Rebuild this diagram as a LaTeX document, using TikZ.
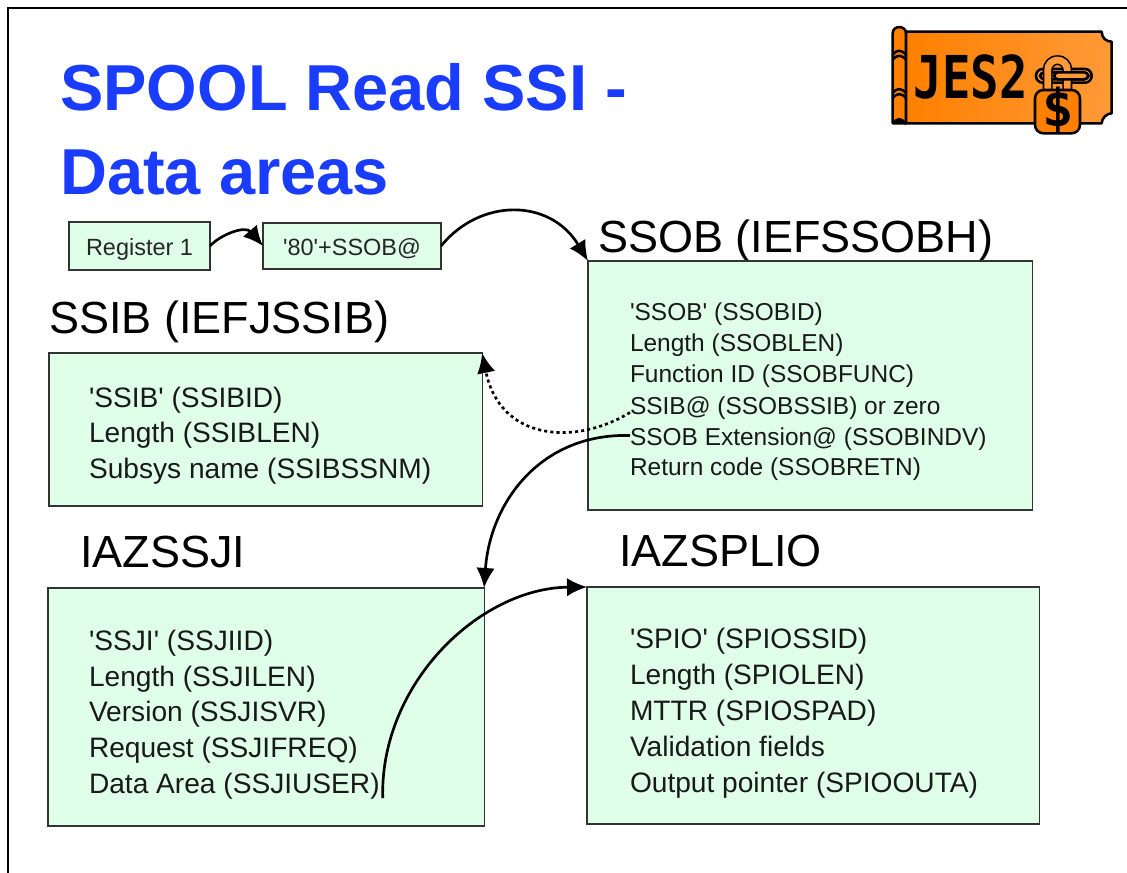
\documentclass[tikz,border=0pt]{standalone}
\usepackage{fontspec}
\setmainfont{Liberation Sans}
\newfontfamily\logofont{DejaVu Sans Mono}
\usetikzlibrary{arrows.meta,positioning,calc}
\definecolor{Title}{HTML}{1A3CFF}
\definecolor{Mint}{HTML}{E0FFE9}
\definecolor{Edge}{HTML}{333333}
\definecolor{LogoA}{HTML}{FF8000}
\definecolor{LogoB}{HTML}{FF9A38}

\begin{document}
\begin{tikzpicture}
[x=.025cm,y=.025cm,
box/.style={draw=Edge,fill=Mint,thick,inner sep=0pt,outer sep=0pt,anchor=north west},
smallbox/.style={box,font=\fontsize{16.7}{20}\selectfont,text=black!85,text height=13.5pt,text depth=0pt},
title/.style={anchor=base west,inner sep=0pt,text=Title,font=\fontsize{46.2}{50}\selectfont\bfseries},
head/.style={anchor=west,inner sep=0pt,text=black,font=\fontsize{32}{36}\selectfont,text height=28pt,text depth=5.8pt},
field/.style={anchor=west,inner sep=0pt,outer sep=0pt,text=black!90,font=\fontsize{20}{24}\selectfont,text height=18pt,text depth=3.4pt},
ssobfield/.style={field,font=\fontsize{17.4}{21}\selectfont},
link/.style={-{Latex[length=5mm,width=4.6mm]},line width=1.9pt,black},
logoline/.style={draw=black,line width=1.8pt,line join=round}
]
\useasboundingbox (0,0) rectangle (1127,873);
%% page edge
\draw[black,line width=.8pt] (8,0) -- (8,865) -- (1127,865);
%% title
\node[title] (title1) at (60,762) {SPOOL Read SSI -};
\node[title] (title2) at (60,678) {Data areas};
%% register boxes
\node[smallbox,minimum width=3.525cm,minimum height=1.2cm] (reg) at (69,651) {Register 1};
\node[smallbox,minimum width=4.45cm,minimum height=1.15cm] (ptr) at (263,650) {\textquotesingle 80\textquotesingle +SSOB@};
%% headings
\node[head] (ssobhead) at (598,636) {SSOB (IEFSSOBH)};
\node[head] (ssibhead) at (49,555) {SSIB (IEFJSSIB)};
\node[head] (ssjihead) at (80,321) {IAZSSJI};
\node[head] (spiohead) at (619,322) {IAZSPLIO};
%% data areas
\node[box,minimum width=11.1cm,minimum height=6.225cm] (ssob) at (588,612) {};
\node[box,minimum width=10.825cm,minimum height=3.825cm] (ssib) at (49,520) {};
\node[box,minimum width=10.9cm,minimum height=5.95cm] (ssji) at (48,285) {};
\node[box,minimum width=11.3cm,minimum height=5.925cm] (spio) at (587,286) {};
%% ssob fields
\node[ssobfield] (ssobid) at (630,562.5) {\textquotesingle SSOB\textquotesingle{} (SSOBID)};
\node[ssobfield] (ssoblen) at (630,531.5) {Length (SSOBLEN)};
\node[ssobfield] (ssobfunc) at (630,500.5) {Function ID (SSOBFUNC)};
\node[ssobfield] (ssobssib) at (630,468.5) {SSIB@ (SSOBSSIB) or zero};
\node[ssobfield] (ssobindv) at (630,437.5) {SSOB Extension@ (SSOBINDV)};
\node[ssobfield] (ssobretn) at (630,407.5) {Return code (SSOBRETN)};
%% ssib fields
\node[field] (ssibid) at (89,476) {\textquotesingle SSIB\textquotesingle{} (SSIBID)};
\node[field] (ssiblen) at (89,441) {Length (SSIBLEN)};
\node[field] (ssibssnm) at (89,405) {Subsys name (SSIBSSNM)};
%% ssji fields
\node[field] (ssjiid) at (89,233) {\textquotesingle SSJI\textquotesingle{} (SSJIID)};
\node[field] (ssjilen) at (89,197) {Length (SSJILEN)};
\node[field] (ssjisvr) at (89,162) {Version (SSJISVR)};
\node[field] (ssjifreq) at (89,126) {Request (SSJIFREQ)};
\node[field] (ssjiuser) at (89,90) {Data Area (SSJIUSER)};
%% spio fields
\node[field] (spiossid) at (630,235) {\textquotesingle SPIO\textquotesingle{} (SPIOSSID)};
\node[field] (spiolen) at (630,199) {Length (SPIOLEN)};
\node[field] (spiospad) at (630,163) {MTTR (SPIOSPAD)};
\node[field] (spioval) at (630,127) {Validation fields};
\node[field] (spioouta) at (630,91) {Output pointer (SPIOOUTA)};
%% pointers
\draw[link] (reg.east) .. controls (220,638) and (245,648) .. (ptr.west);
\draw[link] (ptr.east) .. controls (480,675) and (550,675) .. (ssob.north west);
\draw[link,dash pattern=on 2.2pt off 2.2pt] ($(ssobssib.west)+(0,-8)$) .. controls (575,427) and (500,432) .. (ssib.north east);
\draw[link] (ssobindv.west) .. controls (540,440) and (490,370) .. (ssji.north east);
\draw[link] ($(ssjiuser.south east)+(3,0)$) .. controls (380,190) and (480,285) .. (spio.north west);
%% logo
\begin{scope}[shift={(880,863)},x=.008333cm,y=-.008333cm]
\draw[logoline,left color=LogoA,right color=LogoB] (75,65) -- (665,65)
  .. controls (665,85) and (680,95) .. (695,95) -- (695,310)
  .. controls (680,310) and (665,325) .. (665,340) -- (75,340) -- cycle;
\draw[logoline,fill=LogoA] (38,340) -- (38,70) .. controls (38,45) and (78,45) .. (78,70) -- (78,340) -- cycle;
\draw[logoline] (38,135) .. controls (50,118) and (65,118) .. (78,135);
\draw[logoline] (38,150) .. controls (50,133) and (65,133) .. (78,150);
\draw[logoline] (38,250) .. controls (50,233) and (65,233) .. (78,250);
\draw[logoline] (38,265) .. controls (50,248) and (65,248) .. (78,265);
\fill[black] (38,340) .. controls (45,318) and (70,318) .. (78,340) -- cycle;
\node[anchor=center,inner sep=0pt,xscale=.8,font=\fontsize{42}{46}\selectfont\logofont\bfseries] (logotext) at (272,200) {JES2};
%% clip and shackle
\draw[logoline,fill=LogoB,rounded corners=4.7pt] (468,177) rectangle (635,218);
\draw[logoline,rounded corners=3pt] (480,187) rectangle (625,208);
\draw[black,line width=.25cm,rounded corners=.25cm] (503,245) -- (503,150) -- (562,150) -- (562,245);
\draw[LogoB,line width=.17cm,rounded corners=.25cm] (503,245) -- (503,150) -- (562,150) -- (562,245);
\draw[logoline,fill=LogoB,rounded corners=3pt] (522,187) rectangle (625,208);
%% lock
\draw[logoline,fill=LogoA,rounded corners=6pt] (465,240) rectangle (600,370);
\node[anchor=center,inner sep=0pt,font=\fontsize{37}{40}\selectfont\logofont\bfseries] (logodollar) at (533,303) {\$};
\end{scope}
\end{tikzpicture}
\end{document}
